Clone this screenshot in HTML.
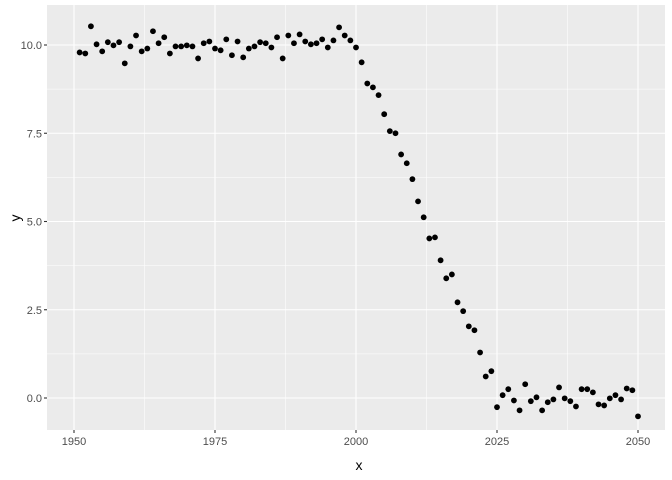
<!DOCTYPE html>
<html><head><meta charset="utf-8"><style>
body{margin:0;background:#fff}
svg{display:block;font-family:"Liberation Sans",sans-serif}
</style></head><body>
<svg id="chart" width="672" height="480">
<rect x="47" y="5" width="618" height="425" fill="#EBEBEB"/>
<g id="grid"></g><g id="pts"></g><g id="axes"></g>
<text x="359" y="470" text-anchor="middle" font-size="14" fill="#000">x</text>
<text x="20" y="218" text-anchor="middle" font-size="14" fill="#000" transform="rotate(-90 20 218)">y</text>
</svg>
<script>
const years=[];for(let i=1951;i<=2050;i++)years.push(i);
const values=[9.79,9.76,10.53,10.02,9.82,10.08,9.99,10.08,9.48,9.96,10.27,9.82,9.9,10.39,10.05,10.22,9.76,9.96,9.96,9.99,9.96,9.62,10.05,10.1,9.9,9.85,10.16,9.71,10.1,9.65,9.9,9.96,10.08,10.05,9.93,10.22,9.62,10.27,10.05,10.3,10.1,10.02,10.05,10.16,9.93,10.13,10.5,10.27,10.13,9.93,9.51,8.91,8.8,8.58,8.04,7.56,7.5,6.9,6.65,6.2,5.57,5.12,4.52,4.55,3.9,3.39,3.5,2.71,2.46,2.03,1.92,1.29,0.61,0.76,-0.26,0.08,0.25,-0.07,-0.35,0.39,-0.09,0.02,-0.35,-0.12,-0.04,0.3,-0.01,-0.09,-0.24,0.25,0.25,0.16,-0.18,-0.21,-0.01,0.08,-0.04,0.27,0.22,-0.52];
const xTicks=[1950,1975,2000,2025,2050];
const yTicks=[0,2.5,5,7.5,10];
const yLabels=["0.0","2.5","5.0","7.5","10.0"];
const X=v=>74+(v-1950)*5.64;
const Y=v=>398-v*35.3;
const NS="http://www.w3.org/2000/svg";
function mk(p,t,a){const e=document.createElementNS(NS,t);for(const k in a)e.setAttribute(k,a[k]);p.appendChild(e);return e;}
const grid=document.getElementById('grid'),axes=document.getElementById('axes'),pts=document.getElementById('pts');
for(let i=0;i<xTicks.length-1;i++){const m=(xTicks[i]+xTicks[i+1])/2;
const l=mk(grid,'line',{x1:X(m),x2:X(m),y1:5,y2:430,stroke:'#fff','stroke-width':0.55});
}
for(let i=0;i<yTicks.length-1;i++){const m=(yTicks[i]+yTicks[i+1])/2;
const l=mk(grid,'line',{x1:47,x2:665,y1:Y(m),y2:Y(m),stroke:'#fff','stroke-width':0.55});
}
xTicks.forEach(t=>{const l=mk(grid,'line',{x1:X(t),x2:X(t),y1:5,y2:430,stroke:'#fff','stroke-width':1.1});

const k=mk(axes,'line',{x1:X(t),x2:X(t),y1:430,y2:433,stroke:'#333','stroke-width':1.1});

const tx=mk(axes,'text',{x:X(t),y:445,'text-anchor':'middle','font-size':11,fill:'#4D4D4D'});tx.textContent=t;
});
yTicks.forEach((t,i)=>{const l=mk(grid,'line',{x1:47,x2:665,y1:Y(t),y2:Y(t),stroke:'#fff','stroke-width':1.1});

const k=mk(axes,'line',{x1:44,x2:47,y1:Y(t),y2:Y(t),stroke:'#333','stroke-width':1.1});

const tx=mk(axes,'text',{x:42,y:Y(t)+4,'text-anchor':'end','font-size':11,fill:'#4D4D4D'});tx.textContent=yLabels[i];
});
years.forEach((yr,i)=>{const c=mk(pts,'circle',{cx:X(yr),cy:Y(values[i]),r:2.9,fill:'#000'});
});
</script>
</body></html>
